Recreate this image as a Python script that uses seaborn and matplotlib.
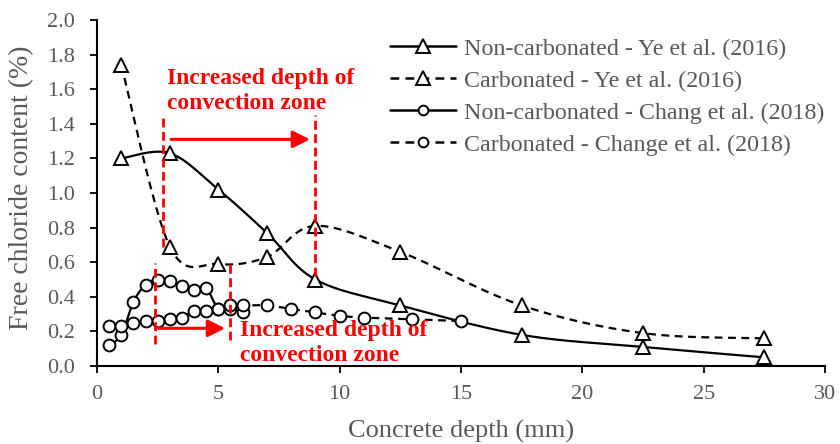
import numpy as np
import pandas as pd
import matplotlib
matplotlib.use("Agg")
import matplotlib.pyplot as plt
from matplotlib.lines import Line2D
import seaborn as sns

# Free chloride profiles (depth in mm, content in %)
ye_depth = [1, 3, 5, 7, 9, 12.5, 17.5, 22.5, 27.5]
ye_noncarb = [1.20, 1.23, 1.02, 0.77, 0.50, 0.35, 0.18, 0.11, 0.05]
ye_carb = [1.74, 0.69, 0.59, 0.63, 0.81, 0.66, 0.35, 0.19, 0.16]

chang_noncarb_depth = [0.5, 1, 1.5, 2, 2.5, 3, 3.5, 4, 4.5, 5, 5.5, 6]
chang_noncarb = [0.12, 0.18, 0.37, 0.47, 0.50, 0.49, 0.46, 0.44, 0.45, 0.33, 0.33, 0.31]

chang_carb_depth = [0.5, 1, 1.5, 2, 2.5, 3, 3.5, 4, 4.5, 5, 5.5, 6, 7, 8, 9, 10, 11, 13, 15]
chang_carb = [0.23, 0.23, 0.25, 0.26, 0.26, 0.27, 0.28, 0.32, 0.32, 0.33, 0.35, 0.35,
              0.35, 0.33, 0.31, 0.29, 0.28, 0.27, 0.26]

series_labels = [
    "Non-carbonated - Ye et al. (2016)",
    "Carbonated - Ye et al. (2016)",
    "Non-carbonated - Chang et al. (2018)",
    "Carbonated - Change et al. (2018)",
]

x_ticks = [0, 5, 10, 15, 20, 25, 30]
y_ticks = [0.0, 0.2, 0.4, 0.6, 0.8, 1.0, 1.2, 1.4, 1.6, 1.8, 2.0]

# convection-zone markers: (start depth, end depth)
ye_zone = (2.7, 9.0)
chang_zone = (2.4, 5.5)
zone_text = "Increased depth of\nconvection zone"

sns.set_theme(style="white")
plt.rcParams["font.family"] = ["Liberation Serif", "DejaVu Serif"]

GRAY = "#595959"
RED = "#ff0000"
DASH = (0, (3.5, 2.5))


def smooth_curve(x, y, n=40):
    """Cardinal (Catmull-Rom) Bezier smoothing through every data point."""
    P = np.column_stack([x, y]).astype(float)
    out = [P[0]]
    t = np.linspace(0, 1, n)[1:, None]
    for i in range(len(P) - 1):
        p0 = P[i - 1] if i > 0 else P[i]
        p1, p2 = P[i], P[i + 1]
        p3 = P[i + 2] if i + 2 < len(P) else P[i + 1]
        c1 = p1 + (p2 - p0) / 6
        c2 = p2 - (p3 - p1) / 6
        seg = (1 - t) ** 3 * p1 + 3 * (1 - t) ** 2 * t * c1 + 3 * (1 - t) * t ** 2 * c2 + t ** 3 * p2
        out.extend(seg)
    return np.array(out)


fig = plt.figure(figsize=(8.4, 4.44), dpi=100)
ax = fig.add_axes([97 / 840, 1 - 366 / 444, 728 / 840, 346 / 444])

series = [
    (ye_depth, ye_noncarb, "-", "^", 10),
    (ye_depth, ye_carb, DASH, "^", 10),
    (chang_noncarb_depth, chang_noncarb, "-", "o", 8.5),
    (chang_carb_depth, chang_carb, DASH, "o", 8.5),
]

for xs, ys, ls, mk, ms in series:
    curve = smooth_curve(xs, ys)
    df = pd.DataFrame({"depth": curve[:, 0], "cl": curve[:, 1]})
    sns.lineplot(data=df, x="depth", y="cl", sort=False, estimator=None,
                 color="black", lw=1.6, linestyle=ls, ax=ax, zorder=3)
    ax.plot(xs, ys, linestyle="none", marker=mk, ms=ms, mfc="white",
            mec="black", mew=1.4, zorder=4)

# red convection-zone annotations
red_dash = (0, (3.2, 1.6))
ax.vlines(ye_zone[0], 0.69, 1.45, colors=RED, lw=2, linestyles=[red_dash], zorder=5)
ax.vlines(ye_zone[1], 0.52, 1.45, colors=RED, lw=2, linestyles=[red_dash], zorder=5)
ax.annotate("", xy=(ye_zone[1] - 0.22, 1.31), xytext=(ye_zone[0] + 0.35, 1.31),
            arrowprops=dict(arrowstyle="-|>", color=RED, lw=2.2, mutation_scale=26,
                            shrinkA=0, shrinkB=0), zorder=5)
ax.text(2.9, 1.725, zone_text, color=RED, fontsize=17, fontweight="bold",
        ha="left", va="top", linespacing=1.25, zorder=5)

ax.vlines(chang_zone[0], 0.13, 0.595, colors=RED, lw=2, linestyles=[red_dash], zorder=5)
ax.vlines(chang_zone[1], 0.15, 0.595, colors=RED, lw=2, linestyles=[red_dash], zorder=5)
ax.annotate("", xy=(chang_zone[1] - 0.22, 0.218), xytext=(chang_zone[0] + 0.13, 0.218),
            arrowprops=dict(arrowstyle="-|>", color=RED, lw=2.2, mutation_scale=26,
                            shrinkA=0, shrinkB=0), zorder=5)
ax.text(5.9, 0.265, zone_text, color=RED, fontsize=17, fontweight="bold",
        ha="left", va="top", linespacing=1.22, zorder=5)

ax.set_xlim(0, 30)
ax.set_ylim(0, 2.0)
ax.set_xticks(x_ticks)
ax.set_xticklabels([str(v) for v in x_ticks])
ax.set_yticks(y_ticks)
ax.set_yticklabels([f"{v:.1f}" for v in y_ticks])

for side in ("top", "right"):
    ax.spines[side].set_visible(False)
for side in ("left", "bottom"):
    ax.spines[side].set_color("black")
    ax.spines[side].set_linewidth(1.5)

ax.tick_params(axis="both", which="major", direction="out", length=5, width=1.3,
               color="black", labelsize=16, labelcolor=GRAY, bottom=True, left=True)
ax.tick_params(axis="x", pad=9)
ax.tick_params(axis="y", pad=11)

ax.set_xlabel("Concrete depth (mm)", fontsize=19, color=GRAY)
ax.set_ylabel("Free chloride content (%)", fontsize=20, color=GRAY)
ax.xaxis.set_label_coords(0.5, -0.19)
ax.yaxis.set_label_coords(-0.103, 0.515)
ax.xaxis.label.set_va("center")
ax.yaxis.label.set_va("center")

handles = [
    Line2D([], [], color="black", lw=1.8, linestyle="-", marker="^", ms=10, mfc="white", mec="black", mew=1.4),
    Line2D([], [], color="black", lw=1.8, linestyle=DASH, marker="^", ms=10, mfc="white", mec="black", mew=1.4),
    Line2D([], [], color="black", lw=1.8, linestyle="-", marker="o", ms=7, mfc="white", mec="black", mew=1.4),
    Line2D([], [], color="black", lw=1.8, linestyle=DASH, marker="o", ms=7, mfc="white", mec="black", mew=1.4),
]
leg = ax.legend(handles, series_labels, loc="upper left",
                bbox_to_anchor=(390 / 840, 1 - 38 / 444), bbox_transform=fig.transFigure,
                frameon=False, fontsize=17.3, handlelength=2.75, handletextpad=0.35,
                labelspacing=0.42, borderpad=0, borderaxespad=0)
for txt in leg.get_texts():
    txt.set_color(GRAY)

fig.savefig("out.png", dpi=100, facecolor="white")
